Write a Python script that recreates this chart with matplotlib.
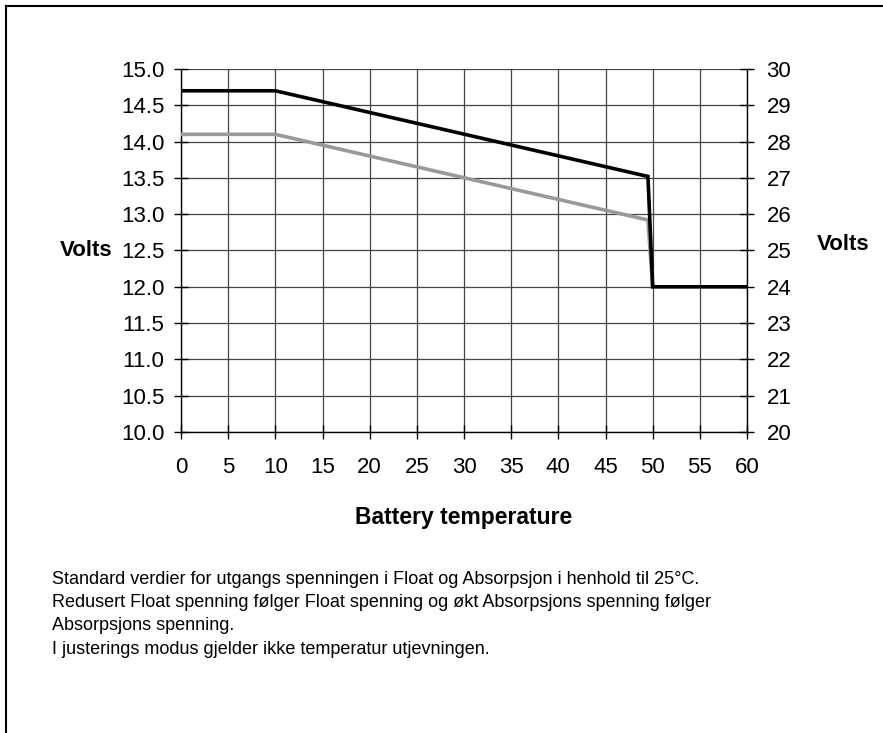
#!/usr/bin/env python3
"""Battery temperature compensation chart (float / absorption voltage)."""
import matplotlib
matplotlib.use("Agg")
import matplotlib.pyplot as plt
from matplotlib.lines import Line2D

plt.rcParams["font.family"] = ["Liberation Sans", "DejaVu Sans"]

# data
temp_absorption = [0, 10, 49.5, 50, 60]
volt_absorption = [14.7, 14.7, 13.52, 12.0, 12.0]
temp_float = [0, 10, 49.5, 50]
volt_float = [14.1, 14.1, 12.92, 12.0]

x_ticks = list(range(0, 61, 5))
left_ticks = [10.0 + 0.5 * i for i in range(11)]
right_ticks = list(range(20, 31))

notes = [
    "Standard verdier for utgangs spenningen i Float og Absorpsjon i henhold til 25°C.",
    "Redusert Float spenning følger Float spenning og økt Absorpsjons spenning følger",
    "Absorpsjons spenning.",
    "I justerings modus gjelder ikke temperatur utjevningen.",
]

fig = plt.figure(figsize=(8.83, 7.33), dpi=100)
W, H = 883, 733
ax = fig.add_axes([181 / W, 1 - 432 / H, (747 - 181) / W, (432 - 69) / H])

ax.plot(temp_float, volt_float, color="#999999", lw=2.6, zorder=3,
        solid_joinstyle="miter")
ax.plot(temp_absorption, volt_absorption, color="black", lw=2.6, zorder=4,
        solid_joinstyle="miter")

ax.set_xlim(0, 60)
ax.set_ylim(10, 15)
ax.set_xticks(x_ticks)
ax.set_yticks(left_ticks)
ax.set_yticklabels([f"{v:.1f}" for v in left_ticks])
ax.grid(True, color="#444444", lw=0.9)
ax.set_axisbelow(True)
for s in ["top", "right"]:
    ax.spines[s].set_visible(False)
for s in ["left", "bottom"]:
    ax.spines[s].set_linewidth(1.0)
ax.tick_params(axis="y", direction="inout", length=10, width=1.0,
               labelsize=16, pad=7)
ax.tick_params(axis="x", direction="inout", length=10, width=1.0,
               labelsize=16, pad=13)

ax.set_xlabel("Battery temperature", fontsize=16.5, fontweight="bold",
              labelpad=20)

ax2 = ax.twinx()
ax2.set_ylim(20, 30)
ax2.set_yticks(right_ticks)
for s in ["top", "left", "bottom"]:
    ax2.spines[s].set_visible(False)
ax2.spines["right"].set_linewidth(1.0)
ax2.tick_params(axis="y", direction="inout", length=10, width=1.0,
                labelsize=16, pad=9)

# axis titles sit level with the middle ticks
fig.text(112 / W, 1 - 250 / H, "Volts", fontsize=16, fontweight="bold",
         ha="right", va="center")
fig.text(817 / W, 1 - 245 / H, "Volts", fontsize=16, fontweight="bold",
         ha="left", va="center")

# note text under the chart
fig.text(52 / W, 1 - 571 / H, "\n".join(notes), fontsize=13, va="top",
         ha="left", linespacing=1.48)

# frame (only left and top edges show in the crop)
fig.add_artist(Line2D([6 / W, 6 / W], [0, 1 - 6 / H], color="black", lw=1.5,
                      transform=fig.transFigure))
fig.add_artist(Line2D([6 / W, 1], [1 - 6 / H, 1 - 6 / H], color="black",
                      lw=1.5, transform=fig.transFigure))

fig.savefig("out.png", dpi=100)
plt.close(fig)
